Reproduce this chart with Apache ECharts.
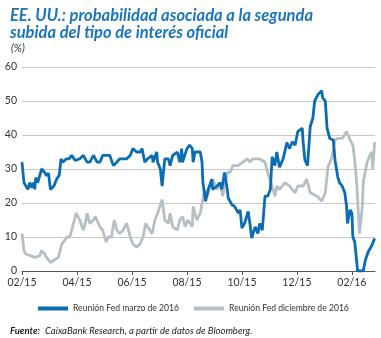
<!DOCTYPE html>
<html>
<head>
<meta charset="utf-8">
<script src="https://cdn.jsdelivr.net/npm/echarts@6/dist/echarts.min.js"></script>
<style>html,body{margin:0;padding:0;background:#fff;}#c{width:381px;height:338px;}</style>
</head>
<body>
<div id="c"></div>
<script>
// x tick labels (every two months)
var tickLabels = ['02/15','04/15','06/15','08/15','10/15','12/15','02/16'];

// Reunión Fed marzo de 2016
var marzoDates = ['2015-02-01','2015-02-03','2015-02-05','2015-02-07','2015-02-09','2015-02-11','2015-02-13','2015-02-14','2015-02-15','2015-02-17','2015-02-19','2015-02-21','2015-02-24','2015-02-26','2015-02-28',
'2015-03-02','2015-03-04','2015-03-06','2015-03-09','2015-03-12','2015-03-13','2015-03-14','2015-03-16','2015-03-20','2015-03-23','2015-03-26','2015-03-30',
'2015-04-04','2015-04-08','2015-04-12','2015-04-15','2015-04-19','2015-04-23','2015-04-26','2015-04-29',
'2015-05-04','2015-05-07','2015-05-11','2015-05-15','2015-05-18','2015-05-23','2015-05-26','2015-05-30',
'2015-06-02','2015-06-06','2015-06-10','2015-06-12','2015-06-15','2015-06-18','2015-06-23','2015-06-24','2015-06-28','2015-06-29',
'2015-07-02','2015-07-04','2015-07-07','2015-07-11','2015-07-13','2015-07-16','2015-07-21','2015-07-24','2015-07-26','2015-07-27',
'2015-08-01','2015-08-04','2015-08-07','2015-08-08','2015-08-10','2015-08-16','2015-08-18','2015-08-19','2015-08-22','2015-08-25','2015-08-29','2015-08-30',
'2015-09-04','2015-09-07','2015-09-09','2015-09-12','2015-09-15','2015-09-16','2015-09-20','2015-09-23','2015-09-27','2015-09-29',
'2015-10-01','2015-10-04','2015-10-08','2015-10-10','2015-10-12','2015-10-16','2015-10-19','2015-10-21','2015-10-24','2015-10-27','2015-10-30',
'2015-11-02','2015-11-04','2015-11-07','2015-11-09','2015-11-12','2015-11-16','2015-11-20','2015-11-23','2015-11-26','2015-11-29',
'2015-12-02','2015-12-07','2015-12-08','2015-12-10','2015-12-13','2015-12-16','2015-12-19','2015-12-21','2015-12-25','2015-12-29','2015-12-30',
'2016-01-02','2016-01-04','2016-01-07','2016-01-11','2016-01-13','2016-01-16','2016-01-18','2016-01-21','2016-01-24','2016-01-26','2016-01-27','2016-01-30',
'2016-02-01','2016-02-02','2016-02-04','2016-02-06','2016-02-07','2016-02-13','2016-02-15','2016-02-18','2016-02-22','2016-02-25'];
var marzoValues = [32,26,25,24,26,24.5,26,24,27.5,26,28,30,29,28,28.8,
24,24.5,25,27,28.2,28,33,32,33,33,34,32.5,
33,34,32,32,34,32,32,34,
34,34,31,32,33,33,33,34,
36,35,35,36,32,33,34,32,35,32,
30,25,33,33,31,34,35,32,36,32,
36,37,36,32,35,35,32,26,20.5,24,27,24,
25,26,24,29,24,21.5,19.5,19,17,18,
12.6,14,17.5,14,9.7,13,11,14,12,22,22,
24,33.6,31,35,30.5,33,37.8,36,38,37,
41,42,38,32.6,31,42.5,45,50,52,53,51,
50,42,39,38.5,32.6,27.7,26,25,23,19,14,18,
17,10,8.5,3,0,0,3,5.5,7.5,9.6];

// Reunión Fed diciembre de 2016
var dicDates = ['2015-02-01','2015-02-03','2015-02-05','2015-02-07','2015-02-10','2015-02-12','2015-02-14','2015-02-16','2015-02-19','2015-02-21','2015-02-24','2015-02-26',
'2015-03-02','2015-03-05','2015-03-07','2015-03-11','2015-03-13','2015-03-15','2015-03-18','2015-03-21','2015-03-24','2015-03-27','2015-03-31',
'2015-04-02','2015-04-04','2015-04-08','2015-04-10','2015-04-12','2015-04-15','2015-04-19','2015-04-21','2015-04-23','2015-04-26','2015-04-29',
'2015-05-03','2015-05-05','2015-05-09','2015-05-12','2015-05-15','2015-05-18','2015-05-22','2015-05-26','2015-05-30',
'2015-06-02','2015-06-06','2015-06-10','2015-06-13','2015-06-16','2015-06-18','2015-06-23','2015-06-26','2015-06-29',
'2015-07-04','2015-07-07','2015-07-11','2015-07-13','2015-07-16','2015-07-21','2015-07-24','2015-07-27','2015-07-30',
'2015-08-02','2015-08-07','2015-08-08','2015-08-12','2015-08-16','2015-08-18','2015-08-21','2015-08-24','2015-08-27','2015-08-30',
'2015-09-04','2015-09-07','2015-09-10','2015-09-15','2015-09-18','2015-09-21','2015-09-27',
'2015-10-02','2015-10-07','2015-10-10','2015-10-13','2015-10-21','2015-10-27','2015-10-30',
'2015-11-04','2015-11-07','2015-11-09','2015-11-12','2015-11-18','2015-11-23','2015-11-29',
'2015-12-02','2015-12-08','2015-12-12','2015-12-16','2015-12-24','2015-12-29',
'2016-01-02','2016-01-05','2016-01-09','2016-01-13','2016-01-16','2016-01-21','2016-01-26','2016-01-30',
'2016-02-02','2016-02-04','2016-02-06','2016-02-09','2016-02-12','2016-02-13','2016-02-15','2016-02-17','2016-02-20','2016-02-22','2016-02-23','2016-02-25'];
var dicValues = [11,6,5,4.5,4.5,4,4,3.5,4.5,6,5,4,
2.5,3,3,4,4,8,9,10,10,13,17,
16,15,12,14,17,14,15,16,16,13,12,
8.5,10,10,15,12,11,12,14,10,
8,7,8,10,14,13,11,15,17,
21,15,14,17,13,12,15,16,13,
15,13,19,15,17,17,24,22,25,27,
24,26,22,29,29,31,31,
32,33,32,33,33,32,29,
25,22,25,24,26,25,23,
25,25,27,23,22,20.5,
23,30.6,33,38.5,39,39,41,38.5,
37,32.6,26,11,19,26,26,32,34,35,30,38];

function toMonth(s) {
  var p = s.split('-');
  var y = +p[0], mo = +p[1], d = +p[2];
  var dim = new Date(y, mo, 0).getDate();
  return (y - 2015) * 12 + (mo - 2) + (d - 1) / dim;
}
function pairs(dates, vals) {
  return dates.map(function (d, i) { return [toMonth(d), vals[i]]; });
}

var chart = echarts.init(document.getElementById('c'), null, {renderer: 'canvas'});
var tickVals = tickLabels.map(function (_, i) { return i * 2; });
chart.setOption({
  animation: false,
  backgroundColor: '#fff',
  title: [{
    text: 'EE. UU.: probabilidad asociada a la segunda\nsubida del tipo de interés oficial',
    left: 5, top: 2,
    textStyle: {color: '#1a75bc', fontSize: 16.5, fontWeight: 'bold', fontStyle: 'italic', fontFamily: 'Lato', lineHeight: 17}
  }, {
    text: '(%)',
    left: 6, top: 38,
    textStyle: {color: '#333', fontSize: 11, fontWeight: 'normal', fontStyle: 'italic', fontFamily: 'Lato'}
  }, {
    text: '{b|Fuente:} {i|CaixaBank Research, a partir de datos de Bloomberg.}',
    left: 5, top: 317,
    textStyle: {
      rich: {
        b: {fontSize: 9.5, fontWeight: 'bold', fontStyle: 'italic', color: '#222', fontFamily: 'Lato'},
        i: {fontSize: 9.5, fontWeight: 'normal', fontStyle: 'italic', color: '#222', fontFamily: 'Lato'}
      }
    }
  }],
  legend: {
    left: 33, top: 299,
    itemWidth: 30, itemHeight: 4, itemGap: 15,
    icon: 'rect',
    textStyle: {color: '#333', fontSize: 8.6, fontFamily: 'Lato'},
    data: ['Reunión Fed marzo de 2016', 'Reunión Fed diciembre de 2016']
  },
  grid: {left: 22, right: 6, top: 67, bottom: 67, containLabel: false},
  xAxis: {
    type: 'value', min: 0, max: 12.84, interval: 2,
    axisLine: {show: true, lineStyle: {color: '#555', width: 1}},
    axisTick: {show: true, length: 4, lineStyle: {color: '#555'}, customValues: tickVals},
    axisLabel: {
      customValues: tickVals,
      color: '#333', fontSize: 10.5, fontFamily: 'Lato', margin: 6,
      formatter: function (v) { return tickLabels[Math.round(v / 2)] || ''; }
    },
    splitLine: {show: false}
  },
  yAxis: {
    type: 'value', min: 0, max: 60, interval: 10,
    axisLine: {show: false}, axisTick: {show: false},
    axisLabel: {color: '#333', fontSize: 10.5, fontFamily: 'Lato', margin: 5},
    splitLine: {lineStyle: {color: '#c8c8c8', width: 1}}
  },
  series: [{
    name: 'Reunión Fed marzo de 2016',
    type: 'line', showSymbol: false, symbol: 'none',
    data: pairs(marzoDates, marzoValues),
    lineStyle: {color: '#0a6db4', width: 2.8},
    itemStyle: {color: '#0a6db4'},
    z: 3
  }, {
    name: 'Reunión Fed diciembre de 2016',
    type: 'line', showSymbol: false, symbol: 'none',
    data: pairs(dicDates, dicValues),
    lineStyle: {color: '#b6c0c4', width: 2.8},
    itemStyle: {color: '#b6c0c4'},
    z: 2
  }]
});
</script>
</body>
</html>
